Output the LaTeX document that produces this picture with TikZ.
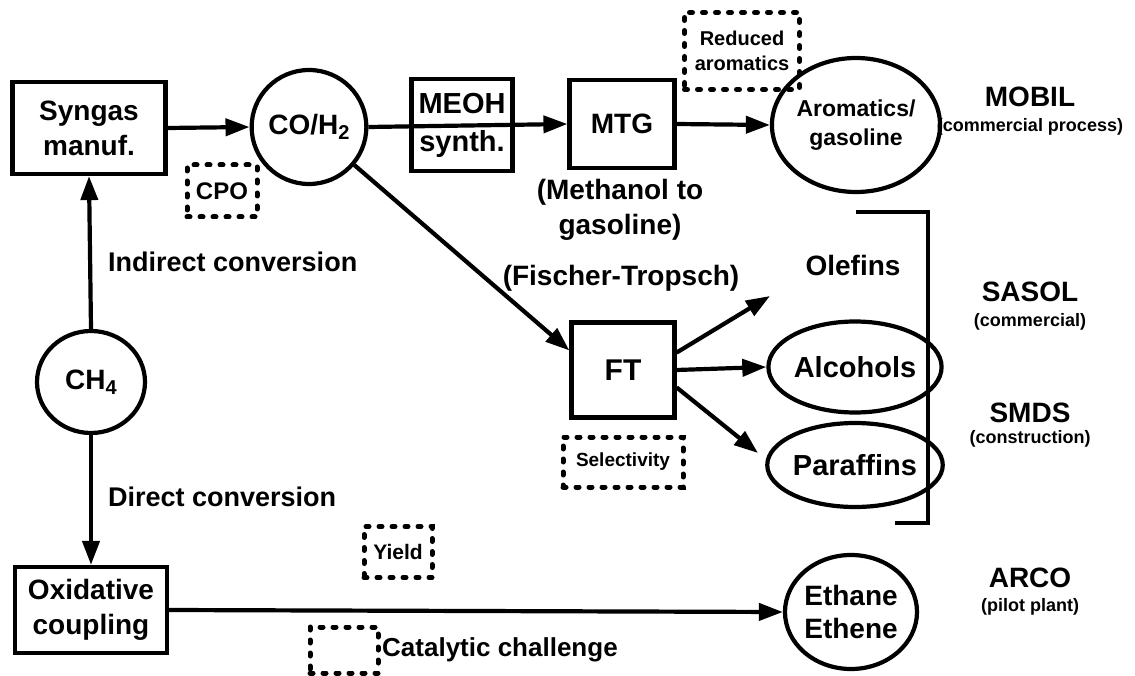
\documentclass[tikz,border=0pt]{standalone}
\usepackage{fontspec}
\setmainfont{Liberation Sans}
\usetikzlibrary{arrows.meta,shapes.geometric}
\newcommand{\fs}[2]{\bfseries\fontsize{#1}{#2}\selectfont}
\newcommand{\subf}[1]{\raisebox{-0.35ex}{\fontsize{20}{20}\selectfont #1}}
\tikzset{
  every node/.style={font=\fs{28}{35}, inner sep=0pt, align=center},
  proc/.style={draw, line width=4.2pt, rectangle},
  spec/.style={draw, line width=4.2pt, ellipse},
  chal/.style={draw, line width=5pt, rectangle, dash pattern=on 3pt off 10pt, line cap=round},
  small/.style={font=\fs{18}{20}},
  flow/.style={line width=4.2pt, -{Triangle[length=24pt,width=17pt]}},
  line/.style={line width=4.2pt},
}
\begin{document}
\begin{tikzpicture}[x=1pt,y=-1pt]
\useasboundingbox (0,0) rectangle (1135,676);

% process boxes
\node[proc, minimum width=153pt, minimum height=92pt] (syngas) at (89,128) {Syngas\\manuf.};
\node[proc, minimum width=101pt, minimum height=92pt, font=\fs{29}{38}] (meoh) at (462,125) {MEOH\\synth.};
\node[proc, minimum width=105pt, minimum height=88pt] (mtg) at (622,124) {MTG};
\node[proc, minimum width=103pt, minimum height=95pt, font=\fs{30}{36}] (ft) at (623,370) {FT};
\node[proc, minimum width=152pt, minimum height=86pt] (oxc) at (91,610) {Oxidative\\coupling};

% species
\node[spec, minimum width=110pt, minimum height=114pt] (coh) at (309,127) {CO/H\subf{2}};
\node[spec, minimum width=108pt, minimum height=102pt] (ch4) at (91,382) {CH\subf{4}};
\node[spec, minimum width=126pt, minimum height=134pt, font=\fs{23}{29}] (arom) at (856,125) {Aromatics/\\gasoline};
\node[spec, minimum width=125pt, minimum height=91pt, font=\fs{29}{35}] (alc) at (855,367) {Alcohols};
\node[spec, minimum width=125pt, minimum height=84pt, font=\fs{29}{35}] (par) at (855,465) {Paraffins};
\node[spec, minimum width=122pt, minimum height=114pt, font=\fs{28}{33}] (eth) at (851,612) {Ethane\\Ethene};

% challenge boxes
\node[chal, minimum width=70pt, minimum height=52pt, font=\fs{24}{26}] (cpo) at (222,191) {CPO};
\node[chal, minimum width=115pt, minimum height=77pt, font=\fs{20}{25}] (red) at (742,51) {Reduced\\aromatics};
\node[chal, minimum width=120pt, minimum height=50pt, font=\fs{19}{22}] (sel) at (623,462) {Selectivity};
\node[chal, minimum width=68pt, minimum height=51pt, font=\fs{21}{22}] (yld) at (398,552) {Yield};
\node[chal, minimum width=68pt, minimum height=46pt] (leg) at (344,650) {};

% labels
\node[anchor=west, font=\fs{27}{32}] (ind) at (108,262) {Indirect conversion};
\node[anchor=west, font=\fs{27}{32}] (dir) at (108,497) {Direct conversion};
\node (meth) at (620,210) {(Methanol to\\gasoline)};
\node (fisch) at (621,278) {(Fischer-Tropsch)};
\node (olef) at (853,265) {Olefins};
\node[anchor=west, font=\fs{26}{30}] (legt) at (382,650) {Catalytic challenge};

\node (mobil) at (1030,97) {MOBIL};
\node[small] (mobils) at (1030,127) {(commercial process)};
\node (sasol) at (1030,292) {SASOL};
\node[small] (sasols) at (1030,322) {(commercial)};
\node (smds) at (1030,413) {SMDS};
\node[small] (smdss) at (1030,439) {(construction)};
\node (arco) at (1030,578) {ARCO};
\node[small] (arcos) at (1030,607) {(pilot plant)};

% connectors
\coordinate (oltip) at (770,296);
\coordinate (partip) at (758,453);
\draw[flow] (syngas.east) -- (coh.west);
\draw[flow] (coh.east) -- (mtg.west);
\draw[flow] (mtg.east) -- (arom.west);
\draw[flow] (coh.-40) -- (ft.160);
\draw[flow] (ft.18) -- (oltip);
\draw[flow] (ft.east) -- (alc.west);
\draw[flow] (ft.-18) -- (partip);
\draw[flow] (ch4.north) -- (syngas.south);
\draw[flow] (ch4.south) -- (oxc.north);
\draw[flow] (oxc.east) -- (eth.west);

% bracket
\draw[line] (856,212) -- (928,212) -- (928,523) -- (895,523);
\end{tikzpicture}
\end{document}
